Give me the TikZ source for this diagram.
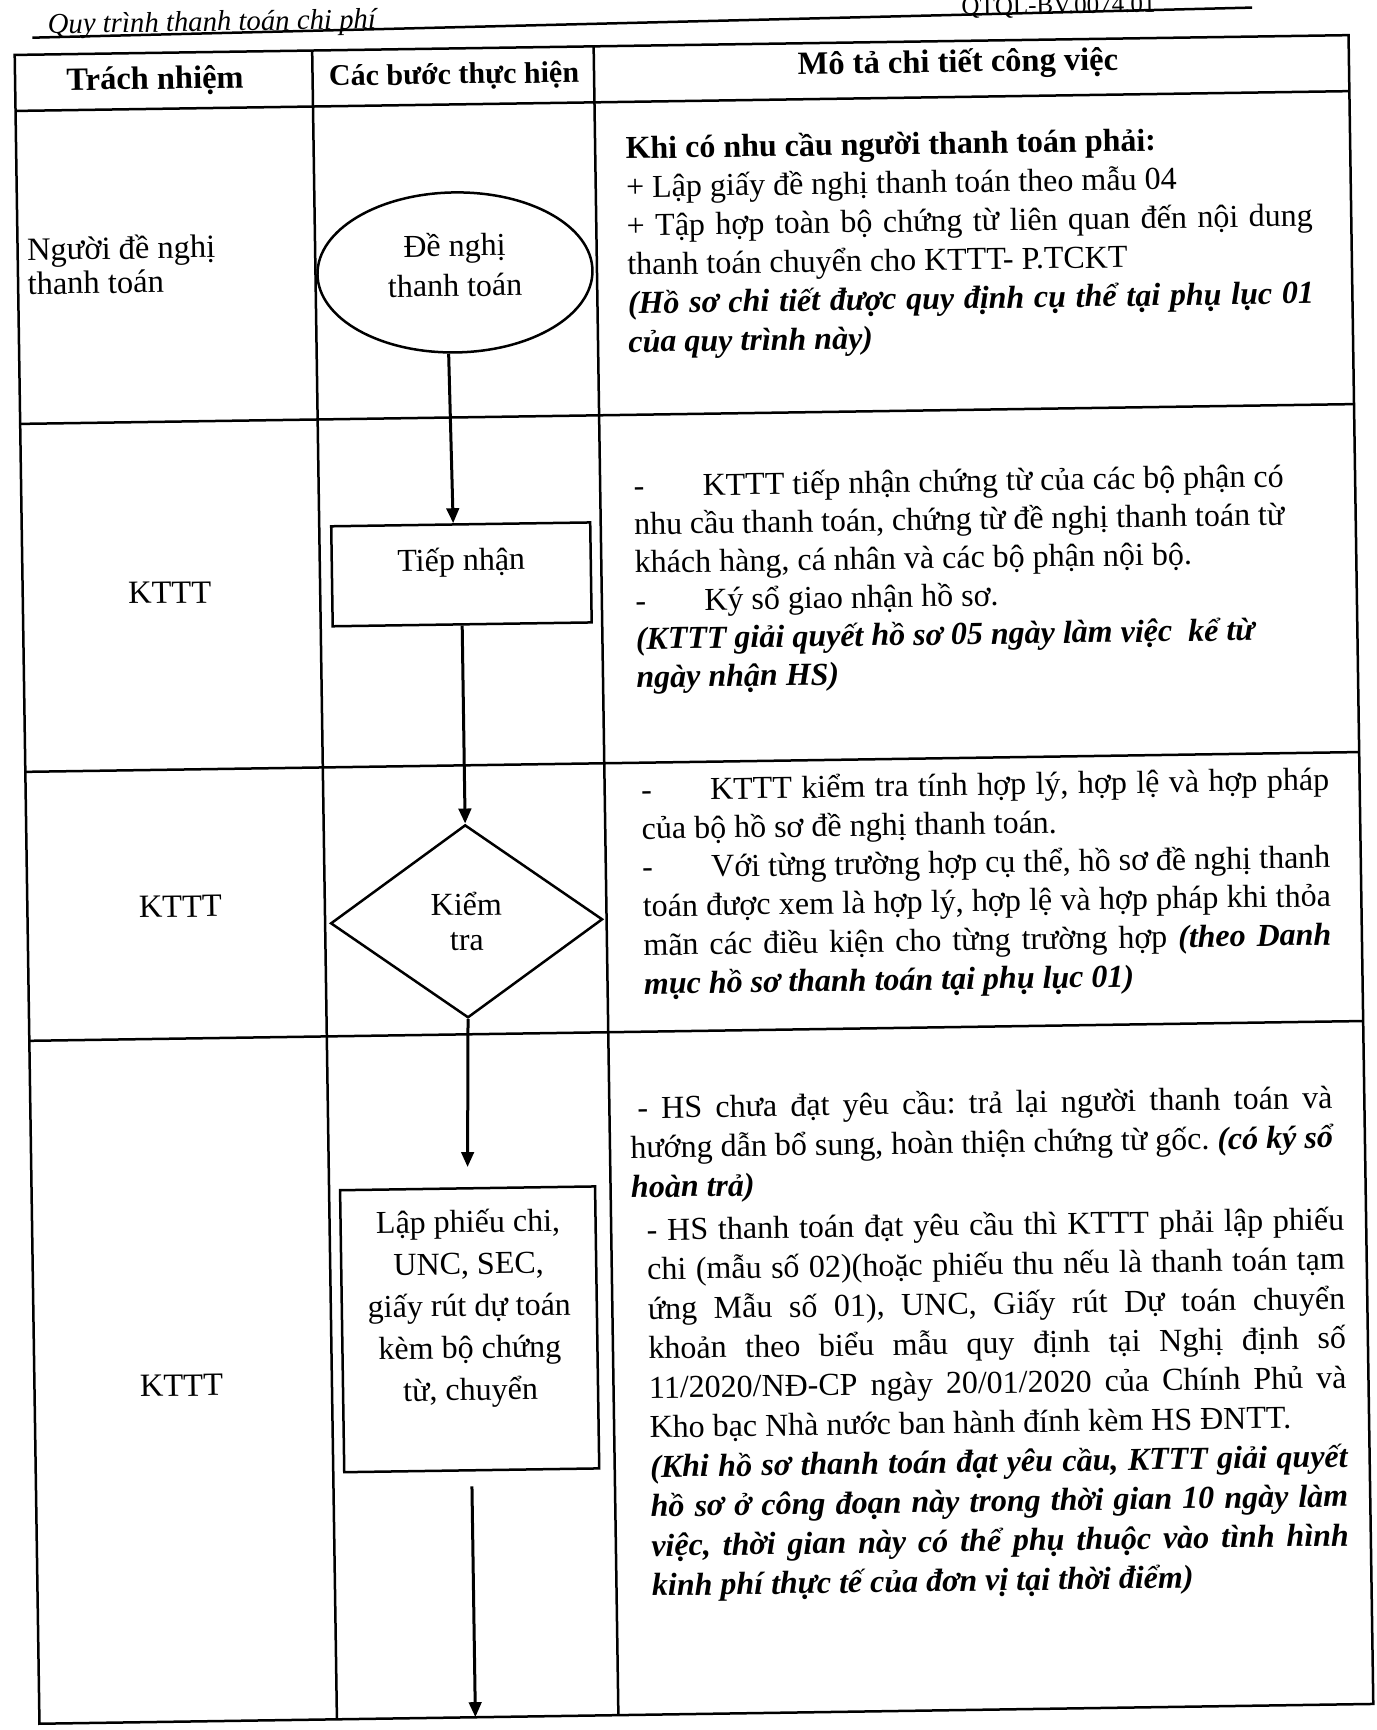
\documentclass[tikz,border=0pt]{standalone}
\usepackage{fontspec}
\setmainfont{Liberation Serif}
\usepackage{tikz}
\usetikzlibrary{shapes,arrows,positioning,calc,arrows.meta}
\setlength{\parindent}{0pt}
\frenchspacing

\newcommand{\dashtab}{\makebox[27.6pt][l]{-}}
\newcommand{\bitext}[1]{\textbf{\textit{#1}}}
\newcommand{\descfont}{\fontsize{12.8}{15.5}\selectfont\lineskiplimit-20pt\relax}
\newcommand{\descfontwide}{\fontsize{12.8}{15.8}\selectfont\lineskiplimit-20pt\relax}

\tikzset{
    grid/.style={line width=1pt},
    flow/.style={line width=1.2pt, -{Triangle[length=6pt,width=5pt]}},
    startstop/.style={ellipse, draw, line width=1pt, minimum width=110pt, minimum height=64pt, inner sep=0pt},
    stepbox/.style={rectangle, draw, line width=1pt},
    steptext/.style={align=center, inner sep=0pt, font=\fontsize{12.8}{16.8}\selectfont},
    decision/.style={diamond, draw, line width=1pt, minimum width=108.8pt, minimum height=77.2pt, aspect=1.41, inner sep=0pt, align=center, font=\fontsize{12.8}{14}\selectfont},
    role/.style={align=left, inner sep=0pt, font=\fontsize{13}{13.6}\selectfont},
    head/.style={inner sep=0pt, font=\fontsize{13}{15}\selectfont\bfseries},
    desc/.style={anchor=north west, inner sep=0pt, align=justify, font=\descfont},
}

\begin{document}
\begin{tikzpicture}[x=0.4pt, y=-0.4pt]
    \useasboundingbox (0,0) rectangle (1376,1730);
    \clip (0,0) rectangle (1376,1730);
    \begin{scope}[rotate around={0.85:(690,880)}, transform shape]

    % page header
    \node[anchor=base west, inner sep=0pt, font=\fontsize{11.5}{13}\selectfont\itshape] (title) at (60,24) {Quy trình thanh toán chi phí};
    \node[anchor=base west, inner sep=0pt, font=\fontsize{10}{12}\selectfont] (code) at (974,19) {QTQL-BV.0074.01};
    \draw[grid] (45,28) -- (1265,16);

    % table
    \draw[grid] (27,45) rectangle (1361,1714);
    \draw[grid] (27,101) -- (1361,101);
    \draw[grid] (27,414) -- (1361,414);
    \draw[grid] (27,762) -- (1361,762);
    \draw[grid] (27,1031) -- (1361,1031);
    \draw[grid] (324.5,45) -- (324.5,1714);
    \draw[grid] (606,45) -- (606,1714);

    \node[head] (h1) at (167,73) {Trách nhiệm};
    \node[head, font=\fontsize{12}{14}\selectfont\bfseries] (h2) at (466,73) {Các bước thực hiện};
    \node[head] (h3) at (970,68) {Mô tả chi tiết công việc};

    % who
    \node[role, anchor=west] (r1) at (36,256) {Người đề nghị\\thanh toán};
    \node[role] (r2) at (174,585) {KTTT};
    \node[role] (r3) at (180,899) {KTTT};
    \node[role] (r4) at (174,1378) {KTTT};

    % steps
    \node[startstop] (denghi) at (464,269) {};
    \node[steptext, font=\fontsize{12.8}{16}\selectfont] (denghiText) at ([yshift=3pt]denghi.center) {Đề nghị\\thanh toán};
    \node[stepbox, minimum width=103.6pt, minimum height=40pt] (tiepnhan) at (466,571) {};
    \node[steptext] (tiepnhanText) at ([yshift=4.8pt]tiepnhan.center) {Tiếp nhận};
    \node[decision] (kiemtra) at (466,918) {Kiểm\\tra};
    \node[stepbox, minimum width=102pt, minimum height=112.8pt] (lapphieu) at (463,1326) {};
    \node[steptext] (lapphieuText) at ([yshift=8.4pt]lapphieu.center) {Lập phiếu chi,\\UNC, SEC,\\giấy rút dự toán\\kèm bộ chứng\\từ, chuyển};
    \coordinate (tblbottom) at (463,1714);

    \draw[flow] ([xshift=-3pt]denghi.south) -- ([xshift=-3pt]tiepnhan.north);
    \draw[flow] (tiepnhan.south) -- (kiemtra.north);
    \draw[flow, shorten >=8pt] (kiemtra.south) -- (lapphieu.north);
    \draw[flow, shorten <=6pt] (lapphieu.south) -- (tblbottom);

    % descriptions
    \node[desc, text width=274.4pt] (desc1) at (636,134) {\textbf{Khi có nhu cầu người thanh toán phải:}\\
        + Lập giấy đề nghị thanh toán theo mẫu 04\\
        + Tập hợp toàn bộ chứng từ liên quan đến nội dung\linebreak thanh toán chuyển cho KTTT- P.TCKT\\
        \bitext{(Hồ sơ chi tiết được quy định cụ thể tại phụ lục 01\linebreak của quy trình này)}};
    \node[desc, text width=260pt, font=\fontsize{12.8}{15.3}\selectfont\lineskiplimit-20pt\relax] (desc2) at (639,472) {\dashtab KTTT tiếp nhận chứng từ của các bộ phận có\linebreak nhu cầu thanh toán, chứng từ đề nghị thanh toán từ\linebreak khách hàng, cá nhân và các bộ phận nội bộ.\\
        \dashtab Ký sổ giao nhận hồ sơ.\\
        \bitext{(KTTT giải quyết hồ sơ 05 ngày làm việc\ \ kể từ}\\
        \bitext{ngày nhận HS)}};
    \node[desc, text width=275.2pt] (desc3) at (642,776) {\dashtab KTTT kiểm tra tính hợp lý, hợp lệ và hợp pháp\linebreak của bộ hồ sơ đề nghị thanh toán.\\
        \dashtab Với từng trường hợp cụ thể, hồ sơ đề nghị thanh\linebreak toán được xem là hợp lý, hợp lệ và hợp pháp khi thỏa\linebreak mãn các điều kiện cho từng trường hợp \bitext{(theo Danh\linebreak mục hồ sơ thanh toán tại phụ lục 01)}};
    \node[desc, text width=281pt, font=\descfontwide] (desc4a) at (626,1094) {\hspace{3pt}- HS chưa đạt yêu cầu: trả lại người thanh toán và\linebreak hướng dẫn bổ sung, hoàn thiện chứng từ gốc. \bitext{(có ký sổ\linebreak hoàn trả)}};
    \node[desc, text width=279pt, font=\descfontwide] (desc4b) at (641,1216) {- HS thanh toán đạt yêu cầu thì KTTT phải lập phiếu\linebreak chi (mẫu số 02)(hoặc phiếu thu nếu là thanh toán tạm\linebreak ứng Mẫu số 01), UNC, Giấy rút Dự toán chuyển\linebreak khoản theo biểu mẫu quy định tại Nghị định số\linebreak 11/2020/NĐ-CP ngày 20/01/2020 của Chính Phủ và\linebreak Kho bạc Nhà nước ban hành đính kèm HS ĐNTT.\\
        \bitext{(Khi hồ sơ thanh toán đạt yêu cầu, KTTT giải quyết\linebreak hồ sơ ở công đoạn này trong thời gian 10 ngày làm\linebreak việc, thời gian này có thể phụ thuộc vào tình hình\linebreak kinh phí thực tế của đơn vị tại thời điểm)}};
    \end{scope}
\end{tikzpicture}
\end{document}
